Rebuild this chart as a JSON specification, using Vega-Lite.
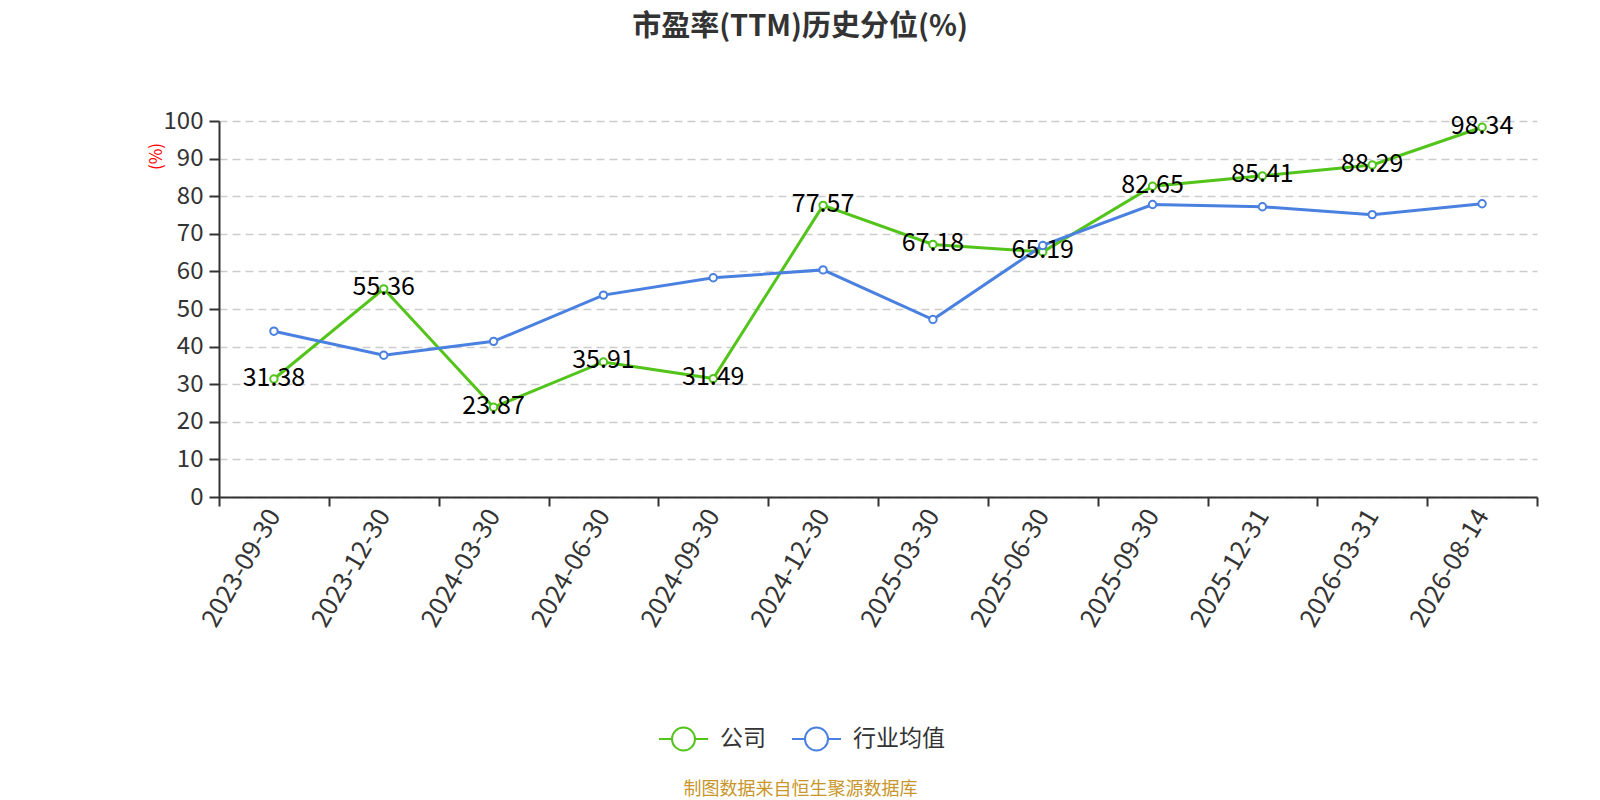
{
  "$schema": "https://vega.github.io/schema/vega-lite/v6.json",
  "width": 1318,
  "height": 376,
  "autosize": {"type": "none"},
  "padding": {"left": 219, "top": 121, "right": 63, "bottom": 303},
  "background": "white",
  "config": {
    "font": "Noto Sans CJK SC",
    "view": {"stroke": null}
  },
  "title": {
    "text": "市盈率(TTM)历史分位(%)",
    "fontSize": 29,
    "fontWeight": "bold",
    "color": "#333333",
    "anchor": "middle",
    "dx": -78,
    "offset": 67,
    "font": "Noto Sans CJK SC"
  },
  "data": {
    "values": [
      {"date": "2023-09-30", "series": "公司", "value": 31.38},
      {"date": "2023-12-30", "series": "公司", "value": 55.36},
      {"date": "2024-03-30", "series": "公司", "value": 23.87},
      {"date": "2024-06-30", "series": "公司", "value": 35.91},
      {"date": "2024-09-30", "series": "公司", "value": 31.49},
      {"date": "2024-12-30", "series": "公司", "value": 77.57},
      {"date": "2025-03-30", "series": "公司", "value": 67.18},
      {"date": "2025-06-30", "series": "公司", "value": 65.19},
      {"date": "2025-09-30", "series": "公司", "value": 82.65},
      {"date": "2025-12-31", "series": "公司", "value": 85.41},
      {"date": "2026-03-31", "series": "公司", "value": 88.29},
      {"date": "2026-08-14", "series": "公司", "value": 98.34},
      {"date": "2023-09-30", "series": "行业均值", "value": 44.1},
      {"date": "2023-12-30", "series": "行业均值", "value": 37.7},
      {"date": "2024-03-30", "series": "行业均值", "value": 41.4},
      {"date": "2024-06-30", "series": "行业均值", "value": 53.7},
      {"date": "2024-09-30", "series": "行业均值", "value": 58.3},
      {"date": "2024-12-30", "series": "行业均值", "value": 60.4},
      {"date": "2025-03-30", "series": "行业均值", "value": 47.2},
      {"date": "2025-06-30", "series": "行业均值", "value": 66.9},
      {"date": "2025-09-30", "series": "行业均值", "value": 77.8},
      {"date": "2025-12-31", "series": "行业均值", "value": 77.2},
      {"date": "2026-03-31", "series": "行业均值", "value": 75.1},
      {"date": "2026-08-14", "series": "行业均值", "value": 78.0}
    ]
  },
  "encoding": {
    "x": {
      "field": "date",
      "type": "ordinal",
      "sort": null,
      "scale": {"type": "band", "paddingInner": 0, "paddingOuter": 0},
      "axis": {
        "title": "制图数据来自恒生聚源数据库",
        "titleColor": "#c8962a",
        "titleFontSize": 18,
        "titleFontWeight": "normal",
        "titleX": 581,
        "titleY": 292,
        "titleAnchor": null,
        "titleAlign": "center",
        "titleBaseline": "middle",
        "labelAngle": -60,
        "labelFontSize": 25.5,
        "labelColor": "#333333",
        "labelPadding": 5,
        "tickBand": "extent",
        "tickSize": 9,
        "tickWidth": 2,
        "tickColor": "#333333",
        "domainColor": "#333333",
        "domainWidth": 2,
        "grid": false
      }
    },
    "y": {
      "field": "value",
      "type": "quantitative",
      "scale": {"domain": [0, 100], "nice": false, "zero": true},
      "axis": {
        "title": "(%)",
        "titleColor": "red",
        "titleFontSize": 17,
        "titleFontWeight": "normal",
        "titleX": -62.5,
        "titleY": 35,
        "titleAngle": -90,
        "titleAlign": "center",
        "titleBaseline": "middle",
        "values": [0, 10, 20, 30, 40, 50, 60, 70, 80, 90, 100],
        "labelFontSize": 24,
        "labelColor": "#333333",
        "labelPadding": 6,
        "tickSize": 10,
        "tickWidth": 2,
        "tickColor": "#333333",
        "domainColor": "#333333",
        "domainWidth": 2,
        "grid": true,
        "gridColor": "#cccccc",
        "gridDash": [8, 5],
        "gridWidth": 1.5
      }
    }
  },
  "layer": [
    {
      "mark": {"type": "line", "strokeWidth": 3},
      "encoding": {
        "color": {
          "field": "series",
          "type": "nominal",
          "scale": {"domain": ["公司", "行业均值"], "range": ["#52c41a", "#4a80e0"]},
          "legend": {
            "title": null,
            "orient": "none",
            "direction": "horizontal",
            "legendX": 439,
            "legendY": 592,
            "symbolType": "M-1,0H-0.47M0.47,0H1M0.47,0A0.47,0.47,0,1,1,-0.47,0A0.47,0.47,0,1,1,0.47,0",
            "symbolSize": 2400,
            "symbolStrokeWidth": 2,
            "labelFontSize": 23,
            "labelColor": "#333333",
            "labelOffset": 11,
            "columnPadding": 22,
            "encode": {"symbols": {"update": {"fill": {"value": "white"}}}}
          }
        }
      }
    },
    {
      "mark": {"type": "point", "shape": "circle", "filled": true, "fill": "white", "size": 55, "strokeWidth": 2, "opacity": 1},
      "encoding": {
        "stroke": {
          "field": "series",
          "type": "nominal",
          "scale": {"domain": ["公司", "行业均值"], "range": ["#52c41a", "#4a80e0"]},
          "legend": null
        }
      }
    },
    {
      "transform": [{"filter": "datum.series === '公司'"}],
      "mark": {"type": "text", "fontSize": 25, "color": "#000000", "baseline": "middle", "align": "center", "dy": -1.5},
      "encoding": {
        "text": {"field": "value", "type": "quantitative", "format": ".2f"}
      }
    }
  ]
}
